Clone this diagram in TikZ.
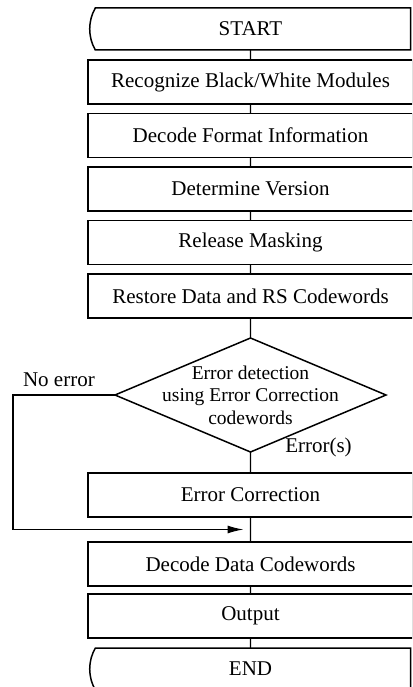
\documentclass[tikz,border=0pt]{standalone}
\usepackage{fontspec}
\setmainfont{Liberation Serif}
\usetikzlibrary{positioning, shapes.geometric, shapes.misc, arrows.meta}
\tikzset{
node distance=9.5pt, % gap between two stacked boxes
every node/.style={font=\fontsize{21}{23}\selectfont},
process/.style={draw, line width=1.5pt, minimum width=325pt, minimum height=44pt, inner sep=0pt, outer sep=0pt}, % plain step box
terminal/.style={draw, line width=1.5pt, rounded rectangle, rounded rectangle right arc=none, rounded rectangle arc length=60, minimum width=321pt, minimum height=42pt, inner sep=0pt, outer sep=0pt}, % START / END
decision/.style={draw, line width=1.5pt, diamond, minimum width=271pt, minimum height=114pt, inner sep=0pt, outer sep=0pt},
link/.style={line width=1.3pt},
}
\begin{document}
\begin{tikzpicture}[x=1pt, y=-1pt]
\useasboundingbox (0,0) rectangle (412,687);
\clip (0,0) rectangle (412,687);

        \node[terminal] (start) at (250.5,29) {START};
        \node[process, below=10pt of start] (modules) {Recognize Black/White Modules};
        \node[process, below=of modules] (format) {Decode Format Information};
        \node[process, below=of format] (version) {Determine Version};
        \node[process, below=of version] (mask) {Release Masking};
        \node[process, below=of mask] (restore) {Restore Data and RS Codewords};
        \node[decision, below=20pt of restore,
              label={[align=center, font=\fontsize{19.5}{22.5}\selectfont]center:Error detection\\using Error Correction\\codewords}] (check) {};
        \node[process, below=21pt of check] (correct) {Error Correction};
        \node[process, below=25pt of correct] (data) {Decode Data Codewords};
        \node[process, below=8pt of data] (output) {Output};
        \node[terminal, below=10pt of output] (end) {END};

        \node[inner sep=0pt] (errors) at ([xshift=68pt, yshift=5pt]check.south) {Error(s)};
        \node[anchor=south east, inner sep=0pt] (noerror) at ([xshift=-20pt, yshift=8pt]check.west) {No error};

        \path (correct.south) -- (data.north) coordinate[midway] (merge);
        \coordinate (loop) at (13,0);

      \draw[link] (start) -- (modules)
            (modules) -- (format)
            (format) -- (version)
            (version) -- (mask)
            (mask) -- (restore)
            (restore) -- (check)
            (check) -- (correct)
            (correct) -- (data)
            (data) -- (output)
            (output) -- (end);
      \draw[link, -{Latex[length=16pt, width=8pt]}, shorten >=7pt] (check.west) -- (check.west -| loop) |- (merge);
\end{tikzpicture}
\end{document}
